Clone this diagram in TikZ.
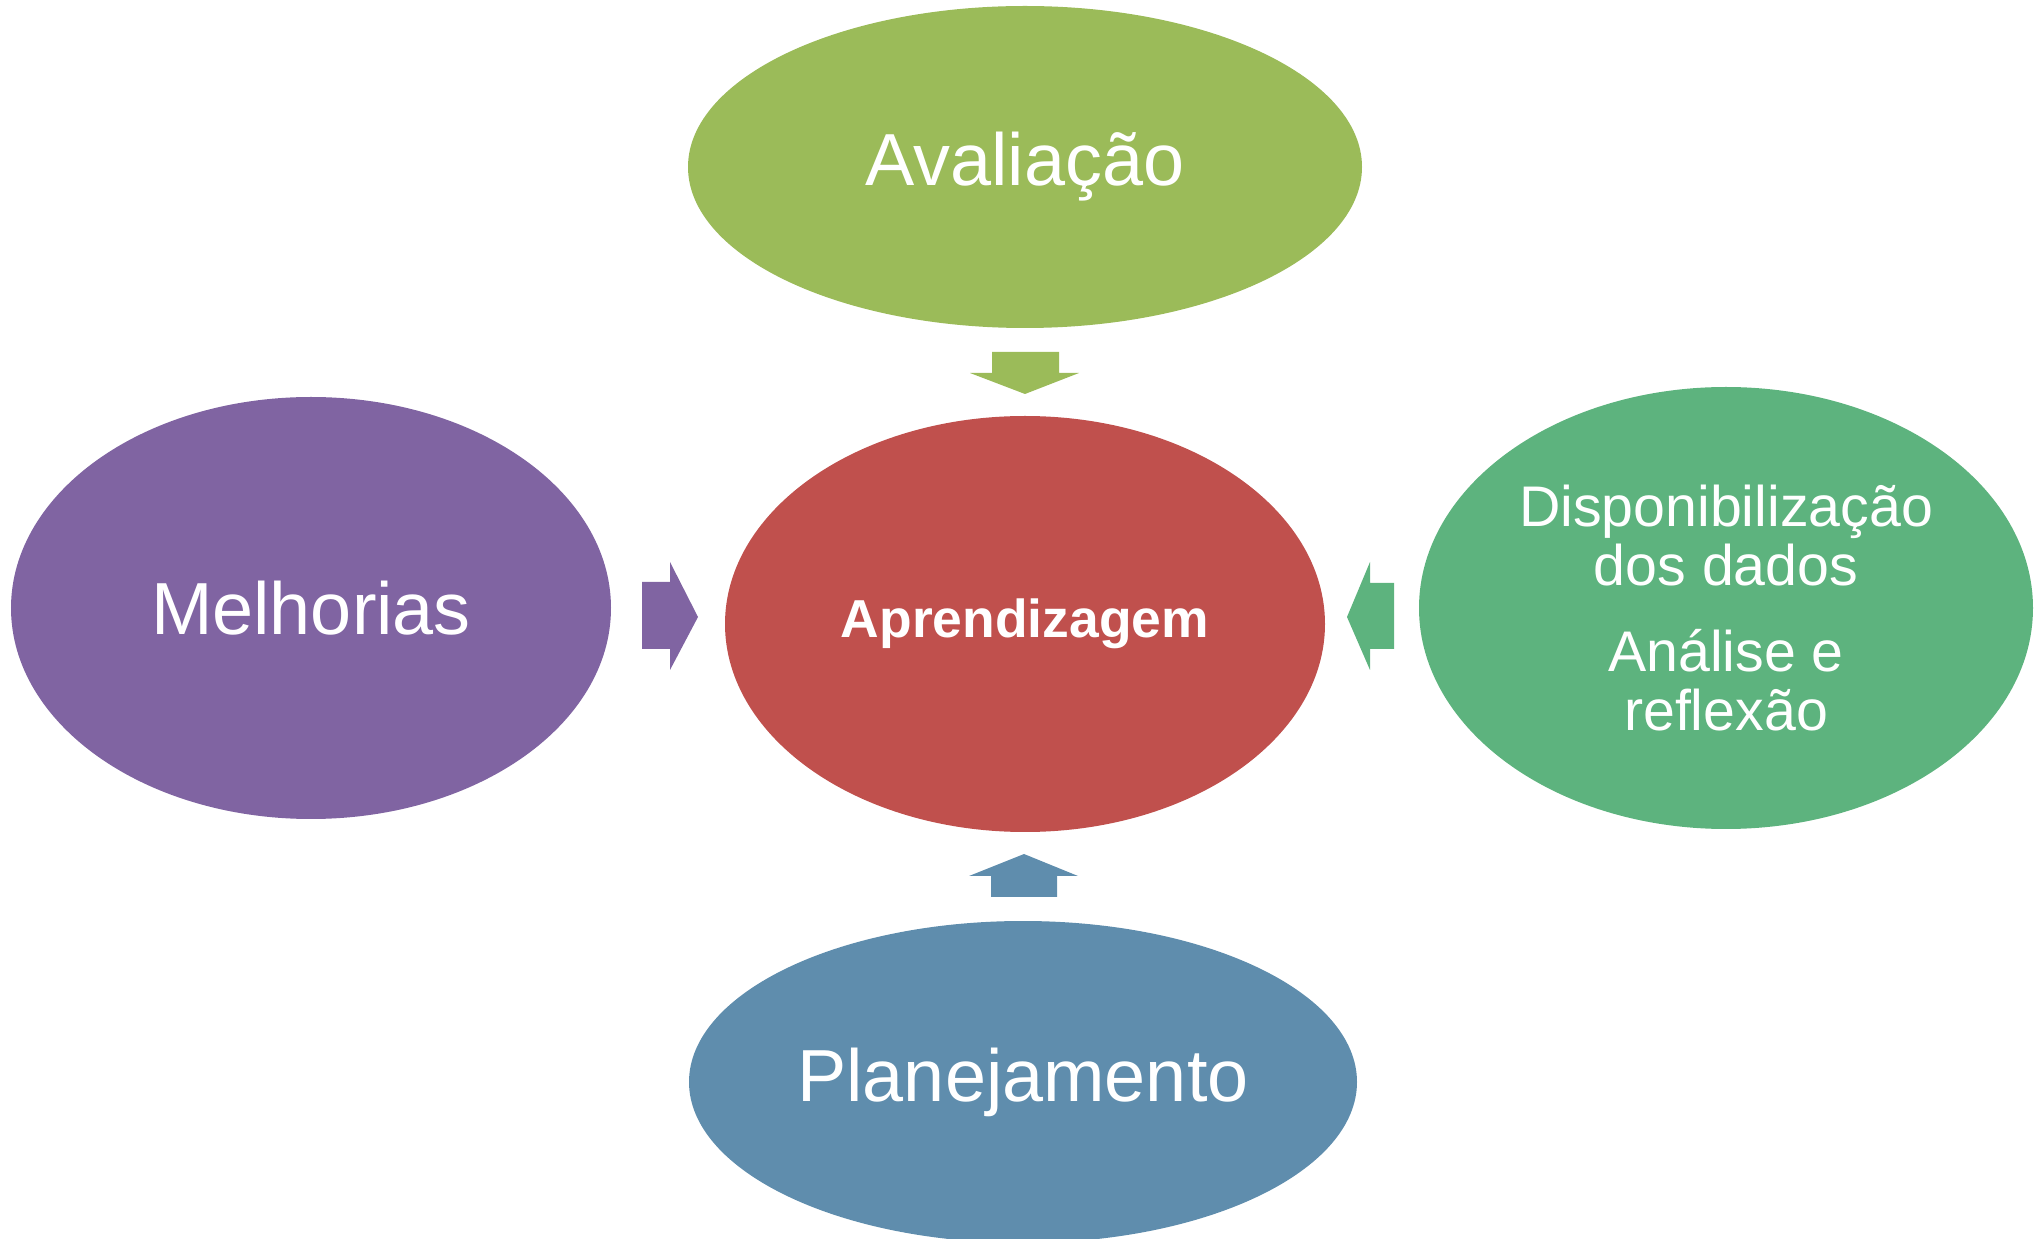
\documentclass[tikz,border=0pt]{standalone}
\usepackage{fontspec}
\setmainfont{Liberation Sans}
\usetikzlibrary{shapes.geometric}
\definecolor{avalcol}{HTML}{9BBB59}
\definecolor{aprcol}{HTML}{C0504D}
\definecolor{melcol}{HTML}{8064A2}
\definecolor{dispcol}{HTML}{5DB37E}
\definecolor{plancol}{HTML}{5F8DAD}
\tikzset{
  bubble/.style={ellipse,inner sep=0pt,text=white,align=center,
    font=\fontsize{21}{25}\selectfont},
  smalltext/.style={font=\fontsize{16.3}{16.8}\selectfont},
}
\begin{document}
\begin{tikzpicture}
			\useasboundingbox (0,0) rectangle (20.34,-12.39);
			\clip (0,0) rectangle (20.34,-12.39);
			% ellipses
			\node[bubble,fill=avalcol,minimum width=6.74cm,minimum height=3.22cm] (aval) at (10.25,-1.67) {Avaliação};
			\node[bubble,fill=aprcol,minimum width=6.00cm,minimum height=4.16cm,font=\fontsize{15.2}{18}\selectfont\bfseries] (apr) at (10.25,-6.24) {Aprendizagem};
			\node[bubble,fill=melcol,minimum width=6.00cm,minimum height=4.22cm] (mel) at (3.11,-6.08) {Melhorias};
			\node[bubble,smalltext,fill=dispcol,minimum width=6.14cm,minimum height=4.42cm] (disp) at (17.26,-6.08) {Disponibilização\\dos dados\\[7.7pt]Análise e\\reflexão};
			\node[bubble,fill=plancol,minimum width=6.68cm,minimum height=3.22cm] (plan) at (10.23,-10.82) {Planejamento};
			% arrows
			\fill[avalcol] (9.92,-3.52) -- (10.59,-3.52) -- (10.59,-3.73) -- (10.79,-3.73) -- (10.25,-3.94) -- (9.70,-3.73) -- (9.92,-3.73) -- cycle;
			\fill[melcol] (6.42,-5.82) -- (6.70,-5.82) -- (6.70,-5.62) -- (6.98,-6.17) -- (6.70,-6.70) -- (6.70,-6.49) -- (6.42,-6.49) -- cycle;
			\fill[dispcol] (13.94,-5.83) -- (13.70,-5.83) -- (13.70,-5.62) -- (13.47,-6.17) -- (13.70,-6.70) -- (13.70,-6.49) -- (13.94,-6.49) -- cycle;
			\fill[plancol] (9.91,-8.97) -- (10.57,-8.97) -- (10.57,-8.76) -- (10.78,-8.76) -- (10.24,-8.54) -- (9.69,-8.76) -- (9.91,-8.76) -- cycle;
\end{tikzpicture}
\end{document}
